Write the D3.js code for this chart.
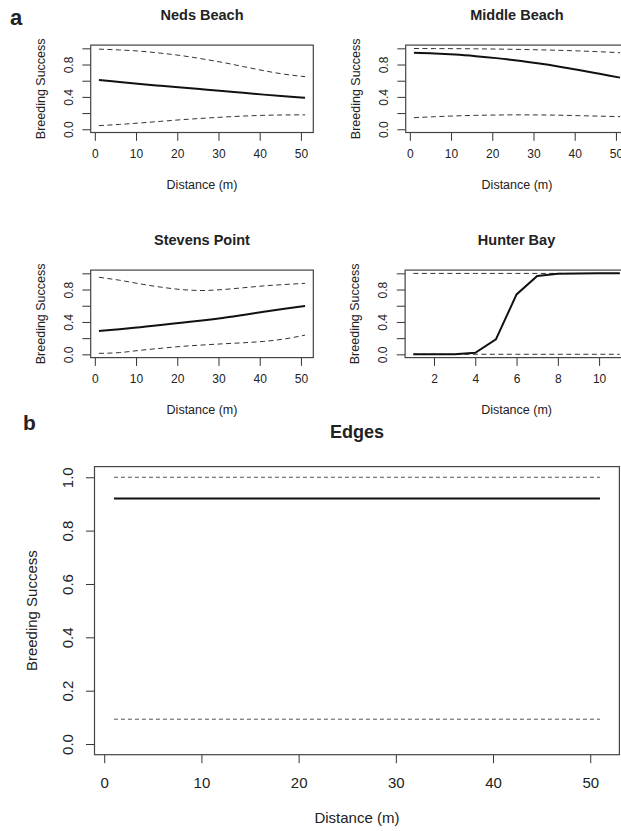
<!DOCTYPE html>
<html>
<head>
<meta charset="utf-8">
<script src="https://cdn.jsdelivr.net/npm/d3@7"></script>
<style>
  body { margin: 0; background: #fff; }
  text { font-family: "Liberation Sans", Arial, Helvetica, sans-serif; fill: #222; }
</style>
</head>
<body>
<div id="chart"></div>
<script>
// ---- data ----
var distSmooth = [1, 6, 11, 16, 21, 26, 31, 36, 41, 46, 51];

var nedsMean  = [0.610, 0.585, 0.560, 0.537, 0.515, 0.494, 0.473, 0.450, 0.428, 0.408, 0.390];
var nedsUpper = [0.990, 0.980, 0.965, 0.940, 0.910, 0.870, 0.826, 0.775, 0.724, 0.680, 0.650];
var nedsLower = [0.045, 0.060, 0.078, 0.098, 0.118, 0.135, 0.150, 0.163, 0.172, 0.177, 0.178];

var middleMean  = [0.945, 0.937, 0.923, 0.903, 0.879, 0.850, 0.815, 0.776, 0.732, 0.685, 0.638];
var middleUpper = [0.998, 0.997, 0.996, 0.994, 0.991, 0.987, 0.982, 0.976, 0.968, 0.958, 0.946];
var middleLower = [0.143, 0.155, 0.165, 0.172, 0.176, 0.178, 0.177, 0.174, 0.168, 0.162, 0.156];

var stevensMean  = [0.288, 0.310, 0.336, 0.362, 0.390, 0.418, 0.450, 0.487, 0.525, 0.562, 0.596];
var stevensUpper = [0.951, 0.915, 0.870, 0.830, 0.800, 0.788, 0.800, 0.822, 0.845, 0.862, 0.877];
var stevensLower = [0.012, 0.022, 0.050, 0.075, 0.098, 0.115, 0.130, 0.143, 0.160, 0.190, 0.238];

var hunterDist  = [1, 2, 3, 4, 5, 6, 7, 8, 9, 10, 11];
var hunterMean  = [0.000, 0.000, 0.002, 0.020, 0.185, 0.740, 0.967, 0.995, 0.999, 1.000, 1.000];
var hunterUpper = [0.999, 0.999, 0.999, 0.999, 0.999, 0.999, 0.999, 0.999, 0.999, 0.999, 0.999];
var hunterLower = [0.001, 0.001, 0.001, 0.001, 0.001, 0.001, 0.001, 0.001, 0.001, 0.001, 0.001];

var edgesDist  = [1, 51];
var edgesMean  = [0.92, 0.92];
var edgesUpper = [1.00, 1.00];
var edgesLower = [0.093, 0.093];

var xTicks50 = [0, 10, 20, 30, 40, 50];
var xTicks11 = [2, 4, 6, 8, 10];
var yTicks = [0, 0.2, 0.4, 0.6, 0.8, 1.0];
var yLabelsSmall = [0, 0.4, 0.8];

var width = 621, height = 831;

var svg = d3.select("#chart")
  .append("svg")
  .attr("width", width)
  .attr("height", height);

// R style 4% padding of the data range
function pad(lo, hi) {
  var r = hi - lo;
  return [lo - 0.04 * r, hi + 0.04 * r];
}

function drawPanel(p) {
  var x = d3.scaleLinear().domain(pad(d3.min(p.dist), d3.max(p.dist))).range([p.left, p.right]);
  var y = d3.scaleLinear().domain(pad(0, 1)).range([p.bottom, p.top]);

  var g = svg.append("g");

  // x axis
  var xa = g.append("g")
    .attr("transform", "translate(0," + p.bottom + ")")
    .call(d3.axisBottom(x).tickValues(p.xTicks).tickSize(p.tick).tickPadding(p.xPad).tickFormat(d3.format("d")));
  xa.select(".domain").remove();
  xa.selectAll("line").attr("stroke", "#333");
  xa.selectAll("text").style("font-size", p.fs + "px").attr("fill", "#222");

  // y axis
  var ya = g.append("g")
    .attr("transform", "translate(" + p.left + ",0)")
    .call(d3.axisLeft(y).tickValues(yTicks).tickSize(p.tick)
      .tickFormat(function (d) {
        return p.yLabels.some(function (v) { return Math.abs(v - d) < 1e-9; }) ? d3.format(".1f")(d) : "";
      }));
  ya.select(".domain").remove();
  ya.selectAll("line").attr("stroke", "#333");
  ya.selectAll("text")
    .style("font-size", p.fs + "px")
    .attr("fill", "#222")
    .attr("x", null)
    .attr("dy", "0.35em")
    .attr("text-anchor", "middle")
    .attr("transform", "translate(" + (-p.yLabOff) + ",0) rotate(-90)");

  // curves
  var line = d3.line()
    .x(function (d) { return x(d[0]); })
    .y(function (d) { return y(d[1]); })
    .curve(p.curve);

  function pts(vals) { return p.dist.map(function (d, i) { return [d, vals[i]]; }); }

  [p.upper, p.lower].forEach(function (vals) {
    g.append("path")
      .attr("d", line(pts(vals)))
      .attr("fill", "none")
      .attr("stroke", p.dashColor)
      .attr("stroke-width", 1)
      .attr("stroke-dasharray", p.dash);
  });
  g.append("path")
    .attr("d", line(pts(p.mean)))
    .attr("fill", "none")
    .attr("stroke", "#111")
    .attr("stroke-width", 2);

  // box
  g.append("rect")
    .attr("x", p.left).attr("y", p.top)
    .attr("width", p.right - p.left).attr("height", p.bottom - p.top)
    .attr("fill", "none")
    .attr("stroke", "#444")
    .attr("stroke-width", 1.2);

  // titles
  g.append("text")
    .attr("x", (p.left + p.right) / 2)
    .attr("y", p.top - p.titleOff)
    .attr("text-anchor", "middle")
    .attr("dy", "0.35em")
    .style("font-size", p.titleFs + "px")
    .style("font-weight", "bold")
    .text(p.title);

  g.append("text")
    .attr("x", (p.left + p.right) / 2)
    .attr("y", p.bottom + p.xTitleOff)
    .attr("text-anchor", "middle")
    .attr("dy", "0.35em")
    .style("font-size", p.labFs + "px")
    .text("Distance (m)");

  g.append("text")
    .attr("transform", "translate(" + (p.left - p.yTitleOff) + "," + ((p.top + p.bottom) / 2) + ") rotate(-90)")
    .attr("text-anchor", "middle")
    .attr("dy", "0.35em")
    .style("font-size", p.labFs + "px")
    .text("Breeding Success");
}

var small = {
  tick: 8.3, xPad: 9, yLabOff: 22, fs: 12, labFs: 12.5, titleFs: 14.5,
  titleOff: 30, xTitleOff: 52.5, yTitleOff: 50.5,
  yLabels: yLabelsSmall, dash: "5,3.5", dashColor: "#333"
};

function panel(extra) { return Object.assign({}, small, extra); }

drawPanel(panel({
  title: "Neds Beach", left: 90.7, right: 313.3, top: 45.1, bottom: 132.5,
  dist: distSmooth, mean: nedsMean, upper: nedsUpper, lower: nedsLower,
  xTicks: xTicks50, curve: d3.curveMonotoneX
}));
drawPanel(panel({
  title: "Middle Beach", left: 405.7, right: 628.3, top: 45.1, bottom: 132.5,
  dist: distSmooth, mean: middleMean, upper: middleUpper, lower: middleLower,
  xTicks: xTicks50, curve: d3.curveMonotoneX
}));
drawPanel(panel({
  title: "Stevens Point", left: 90.7, right: 313.3, top: 270.1, bottom: 357.6,
  dist: distSmooth, mean: stevensMean, upper: stevensUpper, lower: stevensLower,
  xTicks: xTicks50, curve: d3.curveMonotoneX
}));
drawPanel(panel({
  title: "Hunter Bay", left: 405.1, right: 628, top: 270.1, bottom: 357.6,
  dist: hunterDist, mean: hunterMean, upper: hunterUpper, lower: hunterLower,
  xTicks: xTicks11, curve: d3.curveLinear
}));

drawPanel({
  title: "Edges", left: 94.5, right: 619.4, top: 466.6, bottom: 754.7,
  dist: edgesDist, mean: edgesMean, upper: edgesUpper, lower: edgesLower,
  xTicks: xTicks50, curve: d3.curveLinear,
  tick: 8.5, xPad: 14, yLabOff: 27, fs: 15, labFs: 15, titleFs: 18,
  titleOff: 35, xTitleOff: 63, yTitleOff: 62.5,
  yLabels: yTicks, dash: "4,3", dashColor: "#555"
});

// panel letters
svg.append("text").attr("x", 10).attr("y", 25)
  .style("font-size", "22px").style("font-weight", "bold").text("a");
svg.append("text").attr("x", 23).attr("y", 430)
  .style("font-size", "21px").style("font-weight", "bold").text("b");
</script>
</body>
</html>
